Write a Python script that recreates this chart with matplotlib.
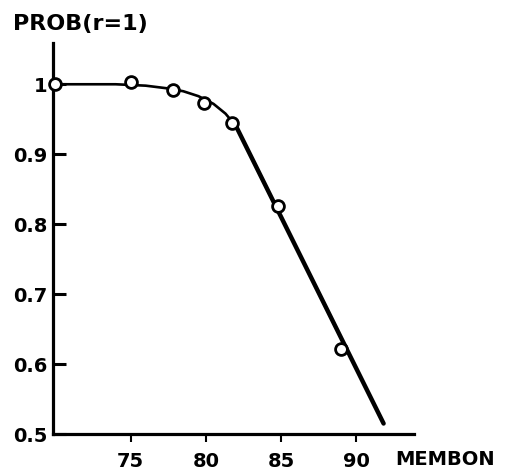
import numpy as np
import matplotlib
matplotlib.use('Agg')
import matplotlib.pyplot as plt

# observed points (circles)
membon = [70, 75, 77.8, 79.9, 81.7, 84.8, 89.0]
prob = [1.0, 1.003, 0.992, 0.973, 0.945, 0.826, 0.622]

# fitted curve: rounded bend, then a straight drop
bend_x = [70, 74, 76, 77.5, 78.5, 79.5, 80.5, 81.3, 82.0]
bend_y = [1.0, 1.0, 0.998, 0.994, 0.99, 0.983, 0.972, 0.958, 0.94]
drop_x = [82.0, 91.8]
drop_y = [0.94, 0.515]

xticks = [75, 80, 85, 90]
yticks = [0.5, 0.6, 0.7, 0.8, 0.9, 1.0]
ylabels = ['0.5', '0.6', '0.7', '0.8', '0.9', '1']

plt.rcParams['font.family'] = ['DejaVu Sans']
plt.rcParams['font.weight'] = 'bold'

fig = plt.figure(figsize=(5.07, 4.73), dpi=100)
ax = fig.add_axes([53 / 507, 39 / 473, 361 / 507, 391 / 473])

ax.plot(bend_x, bend_y, color='black', lw=1.9, solid_capstyle='round', clip_on=False)
ax.plot(drop_x, drop_y, color='black', lw=3.2, solid_capstyle='round', clip_on=False)
ax.plot(membon, prob, 'o', ms=8.5, mfc='white', mec='black', mew=2.0, clip_on=False, zorder=5)

ax.set_xlim(69.84, 93.82)
ax.set_ylim(0.5, 1.059)

ax.spines['top'].set_visible(False)
ax.spines['right'].set_visible(False)
for s in ['left', 'bottom']:
    ax.spines[s].set_linewidth(2.3)

ax.set_xticks(xticks)
ax.set_xticklabels([str(t) for t in xticks])
ax.set_yticks(yticks)
ax.set_yticklabels(ylabels)
ax.tick_params(axis='y', direction='in', length=9.5, width=2.2, pad=4, labelsize=14)
ax.tick_params(axis='x', direction='out', length=6, width=1.5, pad=7, labelsize=14)

fig.text(13 / 507, 1 - 24 / 473, 'PROB(r=1)', fontsize=16, va='center', ha='left')
fig.text(395 / 507, 1 - 459 / 473, 'MEMBON', fontsize=14, va='center', ha='left')

fig.savefig('out.png', dpi=100)
